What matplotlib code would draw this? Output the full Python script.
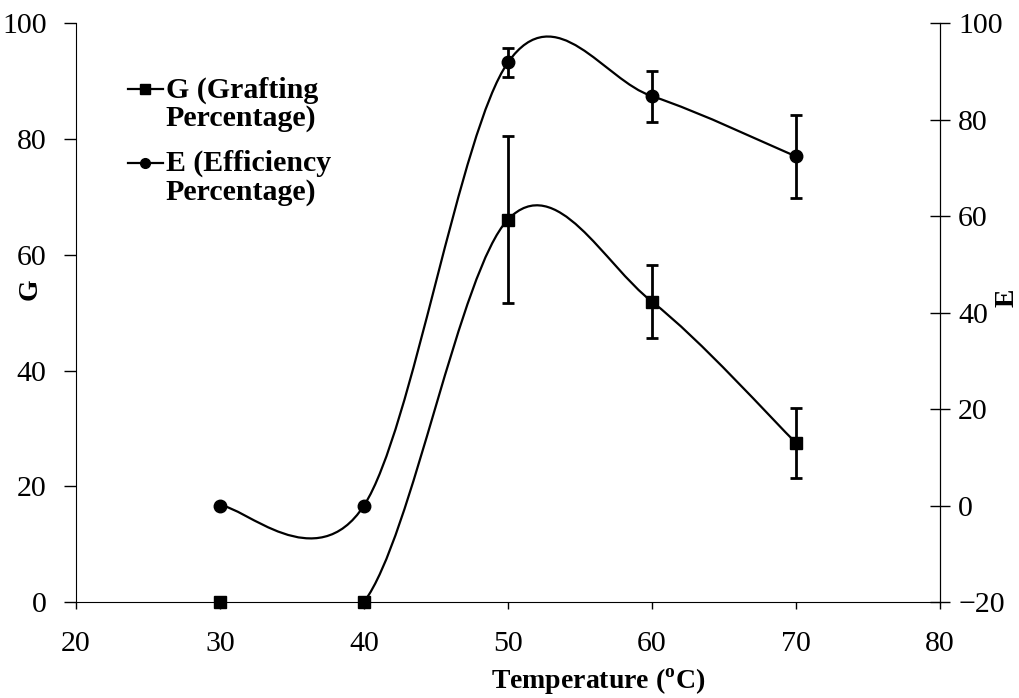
import numpy as np
import matplotlib
matplotlib.use('Agg')
import matplotlib.pyplot as plt
from matplotlib.path import Path
from matplotlib.patches import PathPatch
from matplotlib.lines import Line2D

plt.rcParams['font.family'] = 'Liberation Serif'
plt.rcParams['mathtext.fontset'] = 'custom'
plt.rcParams['mathtext.rm'] = 'Liberation Serif'
plt.rcParams['mathtext.bf'] = 'Liberation Serif:bold'

# data
temp = [30, 40, 50, 60, 70]
g_val = [0, 0, 66.1, 51.9, 27.5]
g_err = [0, 0, 14.4, 6.3, 6.0]
e_val = [0, 0, 91.9, 84.9, 72.4]
e_err = [0, 0, 3.0, 5.3, 8.6]
legend_labels = ['G (Grafting\nPercentage)', 'E (Efficiency\nPercentage)']


def smooth_path(xs, ys):
    # excel style smoothed line: bezier segments with catmull-rom handles
    pts = np.column_stack([xs, ys]).astype(float)
    pad = np.vstack([pts[:1], pts, pts[-1:]])
    verts = [pts[0]]
    codes = [Path.MOVETO]
    for i in range(1, len(pad) - 2):
        p0, p1, p2, p3 = pad[i - 1], pad[i], pad[i + 1], pad[i + 2]
        verts += [p1 + (p2 - p0) / 6.0, p2 - (p3 - p1) / 6.0, p2]
        codes += [Path.CURVE4] * 3
    return Path(verts, codes)


fig = plt.figure(figsize=(10.19, 6.98), dpi=100)
ax = fig.add_axes([0.0745, 0.1375, 0.848, 0.829])
ax2 = ax.twinx()

lw = 1.6
ax.add_patch(PathPatch(smooth_path(temp, g_val), fill=False, lw=lw, color='black'))
ax2.add_patch(PathPatch(smooth_path(temp, e_val), fill=False, lw=lw, color='black'))

ax.plot(temp, g_val, ls='none', marker='s', ms=8, color='black', clip_on=False, zorder=5)
ax2.plot(temp, e_val, ls='none', marker='o', ms=9, color='black', clip_on=False, zorder=5)

gi = [i for i in range(len(temp)) if g_err[i] > 0]
ei = [i for i in range(len(temp)) if e_err[i] > 0]
ax.errorbar([temp[i] for i in gi], [g_val[i] for i in gi], yerr=[g_err[i] for i in gi],
            fmt='none', ecolor='black', elinewidth=2, capsize=4.5, capthick=2)
ax2.errorbar([temp[i] for i in ei], [e_val[i] for i in ei], yerr=[e_err[i] for i in ei],
             fmt='none', ecolor='black', elinewidth=2, capsize=4.5, capthick=2)

ax.set_xlim(20, 80)
ax.set_ylim(0, 100)
ax2.set_ylim(-20, 100)
ax.set_xticks(range(20, 81, 10))
ax.set_yticks(range(0, 101, 20))
ax2.set_yticks(range(-20, 101, 20))

for a in (ax, ax2):
    a.spines['top'].set_visible(False)
ax2.spines['left'].set_visible(False)
ax2.spines['bottom'].set_visible(False)

ax.tick_params(axis='y', direction='out', length=9, width=1, labelsize=21.5, pad=12)
ax.tick_params(axis='x', direction='out', length=5, width=1, labelsize=21.5, pad=16)
ax2.tick_params(axis='y', direction='inout', length=14, width=1, labelsize=21.5, pad=6)

ax.set_ylabel('G', fontsize=20, fontweight='bold', va='center')
ax.yaxis.set_label_coords(-0.053, 0.54)
ax2.set_ylabel('E', fontsize=20, fontweight='bold', va='center')
ax2.yaxis.set_label_coords(1.078, 0.526)
fig.text(0.587, 0.002, r'Temperature ($^{\mathbf{o}}$C)', fontsize=20,
         fontweight='bold', ha='center', va='bottom')

# legend drawn by hand so the key sits on the first text line
markers = ['s', 'o']
key_y = [0.886, 0.7595]
for lab, mk, y in zip(legend_labels, markers, key_y):
    ax.add_line(Line2D([0.060, 0.1007], [y, y], transform=ax.transAxes,
                       color='black', lw=lw))
    ax.plot([0.0804], [y], transform=ax.transAxes, marker=mk, ms=7, color='black')
    ax.text(0.104, y + 0.022, lab, transform=ax.transAxes, fontsize=21.5,
            fontweight='bold', ha='left', va='top', linespacing=1.05)

fig.savefig('out.png', dpi=100)
